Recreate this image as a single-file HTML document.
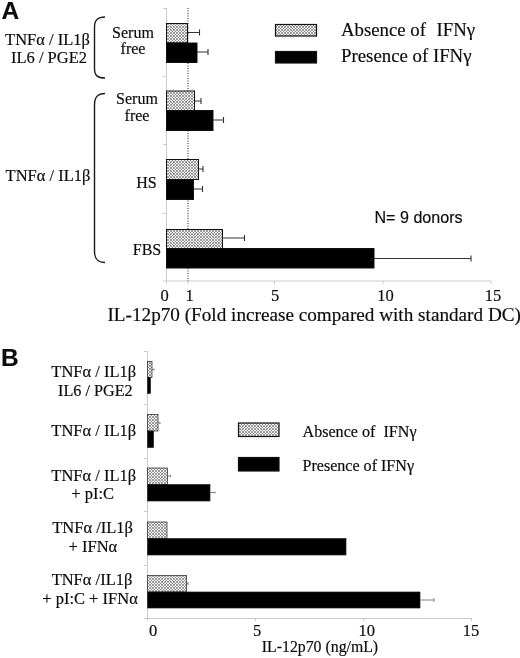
<!DOCTYPE html>
<html><head><meta charset="utf-8">
<style>
html,body{margin:0;padding:0;background:#fff;}
svg{display:block;}
text{font-family:"Liberation Serif",serif;fill:#0c0c0c;stroke:#0c0c0c;stroke-width:0.18px;}
.sans{font-family:"Liberation Sans",sans-serif;}
.b{stroke-width:0.15px;}
</style></head><body>
<svg width="520" height="658" viewBox="0 0 520 658">
<defs>
<pattern id="hx" width="3" height="3" patternUnits="userSpaceOnUse">
<rect width="3" height="3" fill="#f2f2f2"/>
<path d="M0 0L3 3M3 0L0 3" stroke="#808080" stroke-width="0.75"/>
</pattern>
</defs>
<rect width="520" height="658" fill="#fff"/>

<!-- PANEL A -->
<text class="sans b" x="1.5" y="19" font-size="24.5" font-weight="bold">A</text>
<g stroke="#cbcbcb" stroke-width="1" fill="none">
<path d="M166.500 8V281M163 8.500h3.500M163 76.500h3.500M163 144.500h3.500M163 213.500h3.500M163 281H491.500"/>
<path d="M166.500 281v3M188 281v3M274.500 281v3M383 281v3M491 281v3"/>
</g>
<path d="M188 8V281" stroke="#222" stroke-width="1" stroke-dasharray="1 1.500" fill="none"/>
<g stroke="#111" stroke-width="1">
<rect x="166.500" y="23.500" width="21" height="19.500" fill="url(#hx)"/>
<rect x="166.500" y="43" width="30.500" height="19.500" fill="#000"/>
<rect x="166.500" y="91" width="28" height="19.500" fill="url(#hx)"/>
<rect x="166.500" y="110.500" width="46.500" height="20" fill="#000"/>
<rect x="166.500" y="159.500" width="32" height="20" fill="url(#hx)"/>
<rect x="166.500" y="179.500" width="27" height="20" fill="#000"/>
<rect x="166.500" y="229.500" width="56" height="19" fill="url(#hx)"/>
<rect x="166.500" y="248.500" width="207.500" height="19.500" fill="#000"/>
</g>
<g stroke="#333" stroke-width="1.100" fill="none">
<path d="M188 32.500h11.500M199.500 29.500v6"/>
<path d="M197 52h11M208 49v6"/>
<path d="M194.500 101h6.500M201 98v6"/>
<path d="M213 120h10.500M223.500 117v6"/>
<path d="M198.500 169h4.500M203 166v6"/>
<path d="M193.500 189h9M202.500 186v6"/>
<path d="M222.500 238h22M244.500 235v6"/>
<path d="M374 258.500h97M471 255.500v6"/>
</g>
<!-- brackets -->
<g stroke="#1a1a1a" stroke-width="1.400" fill="none">
<path d="M105 17C97.500 17 94.500 20 94.500 27V68.500C94.500 75.500 97.500 78 105 78"/>
<path d="M105 93.500C97.500 93.500 94.500 97 94.500 105V251C94.500 259 97.500 262.500 105 262.500"/>
</g>
<text x="47.500" y="45" font-size="16.500" text-anchor="middle">TNFα / IL1β</text>
<text x="49" y="63" font-size="16.500" text-anchor="middle">IL6 / PGE2</text>
<text x="48" y="180.500" font-size="16.500" text-anchor="middle">TNFα / IL1β</text>
<text x="133" y="37.500" font-size="16" text-anchor="middle">Serum</text>
<text x="133" y="54" font-size="16" text-anchor="middle">free</text>
<text x="137" y="104" font-size="16" text-anchor="middle">Serum</text>
<text x="137" y="120.500" font-size="16" text-anchor="middle">free</text>
<text x="146.500" y="188" font-size="16" text-anchor="middle">HS</text>
<text x="147" y="255" font-size="16" text-anchor="middle">FBS</text>
<!-- legend A -->
<rect x="275.500" y="24.500" width="41" height="11.500" fill="url(#hx)" stroke="#111" stroke-width="1.200"/>
<rect x="275.500" y="51.500" width="41" height="11.500" fill="#000" stroke="#111" stroke-width="1.200"/>
<text x="341" y="36.200" font-size="18.800">Absence of</text>
<text x="436.500" y="36.200" font-size="18.800">IFNγ</text>
<text x="341" y="61.800" font-size="18.800" textLength="130.500" lengthAdjust="spacingAndGlyphs">Presence of IFNγ</text>
<text class="sans b" x="374.500" y="223" font-size="16.100">N= 9 donors</text>
<!-- axis A labels -->
<g font-size="16.500" text-anchor="middle">
<text x="164.500" y="300.500">0</text><text x="189.500" y="300.500">1</text><text x="275" y="300.500">5</text><text x="385.500" y="300.500">10</text><text x="493" y="300.500">15</text>
</g>
<text x="314.200" y="320.600" font-size="19.200" text-anchor="middle">IL-12p70 (Fold increase compared with standard DC)</text>

<!-- PANEL B -->
<text class="sans b" x="1" y="366" font-size="24.500" font-weight="bold">B</text>
<g stroke="#cbcbcb" stroke-width="1" fill="none">
<path d="M147.500 351V618.500M144 351.500h3.500M144 404.500h3.500M144 458.500h3.500M144 511.500h3.500M144 565.500h3.500M144 618.500H472"/>
<path d="M147.500 618v3M255.500 618v3M363.500 618v3M471.500 618v3"/>
</g>
<g stroke="#222" stroke-width="0.700">
<rect x="147.500" y="361.500" width="4.500" height="16" fill="url(#hx)"/>
<rect x="147.500" y="377.500" width="3" height="16" fill="#000"/>
<rect x="147.500" y="414.500" width="10.500" height="16.500" fill="url(#hx)"/>
<rect x="147.500" y="431" width="6" height="16.500" fill="#000"/>
<rect x="147.500" y="468" width="20" height="16.500" fill="url(#hx)"/>
<rect x="147.500" y="484.500" width="62.500" height="16.500" fill="#000"/>
<rect x="147.500" y="522" width="19.500" height="16.500" fill="url(#hx)"/>
<rect x="147.500" y="538.500" width="198.500" height="16.500" fill="#000"/>
<rect x="147.500" y="575.500" width="39" height="16.500" fill="url(#hx)"/>
<rect x="147.500" y="592" width="272.500" height="16" fill="#000"/>
</g>
<g stroke="#666" stroke-width="0.800" fill="none">
<path d="M152 369.500h2M154 368.500v2"/>
<path d="M158 423h2M160 422v2"/>
<path d="M167.500 476h3M170.500 475v2"/>
<path d="M210 492.500h5M215 491.500v2"/>
<path d="M186.500 583.500h1.500M188 582v3"/>
<path d="M420 600h14M434 598v4"/>
</g>
<g font-size="16.500" text-anchor="middle">
<text x="93.800" y="376.500">TNFα / IL1β</text>
<text x="95.400" y="395.500" font-size="16.200">IL6 / PGE2</text>
<text x="93.800" y="436.300">TNFα / IL1β</text>
<text x="93.800" y="480.500">TNFα / IL1β</text>
<text x="92.600" y="498.500">+ pI:C</text>
<text x="92.600" y="532.500">TNFα /IL1β</text>
<text x="92.900" y="551.500">+ IFNα</text>
<text x="92" y="584.800">TNFα /IL1β</text>
<text x="90" y="603.800">+ pI:C + IFNα</text>
</g>
<rect x="238.500" y="423" width="40.500" height="13.500" fill="url(#hx)" stroke="#111" stroke-width="1.200"/>
<rect x="238.500" y="457.500" width="40.500" height="13.500" fill="#000" stroke="#111" stroke-width="1.200"/>
<text x="302.500" y="436.500" font-size="15.800" xml:space="preserve" textLength="114" lengthAdjust="spacingAndGlyphs">Absence of  IFNγ</text>
<text x="302.500" y="470.800" font-size="15.800" textLength="111.500" lengthAdjust="spacingAndGlyphs">Presence of IFNγ</text>
<g font-size="16.500" text-anchor="middle">
<text x="153" y="635.500">0</text><text x="257" y="635.500">5</text><text x="366.800" y="635.500">10</text><text x="471" y="635.500">15</text>
</g>
<text x="320" y="652" font-size="15.800" text-anchor="middle">IL-12p70 (ng/mL)</text>
</svg>
</body></html>
